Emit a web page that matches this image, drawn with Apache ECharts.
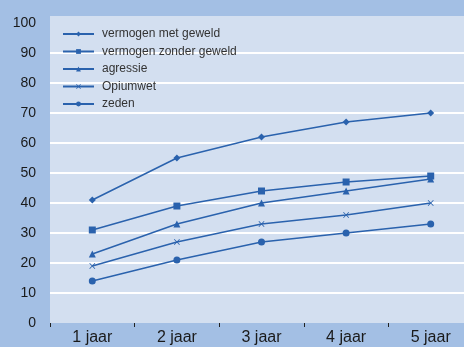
<!DOCTYPE html>
<html>
<head>
<meta charset="utf-8">
<script src="https://cdn.jsdelivr.net/npm/echarts@6/dist/echarts.min.js"></script>
<style>
    html, body {margin: 0; padding: 0; background: #a3bfe4;}
    #echartdiv {width: 464px; height: 347px;}
</style>
</head>
<body>
<div id="echartdiv"></div>
<script>
var pName = ["1 jaar", "2 jaar", "3 jaar", "4 jaar", "5 jaar"];
var pSeries = ["vermogen met geweld", "vermogen zonder geweld", "agressie", "Opiumwet", "zeden"];
var dMetGeweld = [41, 55, 62, 67, 70];
var dZonderGeweld = [31, 39, 44, 47, 49];
var dAgressie = [23, 33, 40, 44, 48];
var dOpiumwet = [19, 27, 33, 36, 40];
var dZeden = [14, 21, 27, 30, 33];

var lineColor = '#2a62ad';
var crossPath = 'path://M0,1L1,0L5,4L9,0L10,1L6,5L10,9L9,10L5,6L1,10L0,9L4,5Z';

function make_series(name, data, symbol, size) {
    return {
        name: name,
        type: 'line',
        data: data,
        symbol: symbol,
        symbolSize: size,
        showAllSymbol: true,
        lineStyle: {color: lineColor, width: 1.5},
        itemStyle: {color: lineColor},
        emphasis: {disabled: true}
    };
}

function show_line() {
    var dom = document.getElementById("echartdiv");
    var myChart = echarts.init(dom);

    var option = {
        backgroundColor: '#a3bfe4',
        animation: false,
        textStyle: {fontFamily: 'Liberation Sans'},
        grid: {
            left: 50,
            right: -9,   //laatste categorie loopt buiten beeld
            top: 23,
            bottom: 24,
            outerBoundsMode: 'none',
            show: true,
            backgroundColor: '#d3dff0',
            borderWidth: 0
        },
        // strook boven de 100
        graphic: [{
            type: 'rect',
            z: -1,
            shape: {x: 50, y: 16, width: 414, height: 8},
            style: {fill: '#d3dff0'}
        }],
        legend: {
            orient: 'vertical',
            left: 62,
            top: 28,
            padding: 0,
            itemWidth: 31,
            itemHeight: 6,
            itemGap: 5.5,
            data: pSeries,
            textStyle: {fontSize: 12, color: '#333', lineHeight: 12, padding: [0, 0, 0, 3]}
        },
        xAxis: [{
            type: 'category',
            data: pName,
            axisLine: {show: false},
            axisTick: {show: true, length: 4, lineStyle: {color: '#222'}},
            axisLabel: {fontSize: 16, color: '#1a1a1a', margin: 7},
            splitLine: {show: false}
        }],
        yAxis: [{
            type: 'value',
            min: 0,
            max: 100,
            interval: 10,
            axisLine: {show: false},
            axisTick: {show: false},
            axisLabel: {fontSize: 14, color: '#1a1a1a', margin: 14},
            splitLine: {show: true, showMinLine: false, showMaxLine: false, lineStyle: {color: '#ffffff', width: 2}}
        }],
        series: [
            make_series(pSeries[0], dMetGeweld, 'diamond', 7),
            make_series(pSeries[1], dZonderGeweld, 'rect', 7),
            make_series(pSeries[2], dAgressie, 'triangle', 7),
            make_series(pSeries[3], dOpiumwet, crossPath, 6),
            make_series(pSeries[4], dZeden, 'circle', 7)
        ]
    };

    myChart.setOption(option);
}

show_line();
</script>
</body>
</html>
